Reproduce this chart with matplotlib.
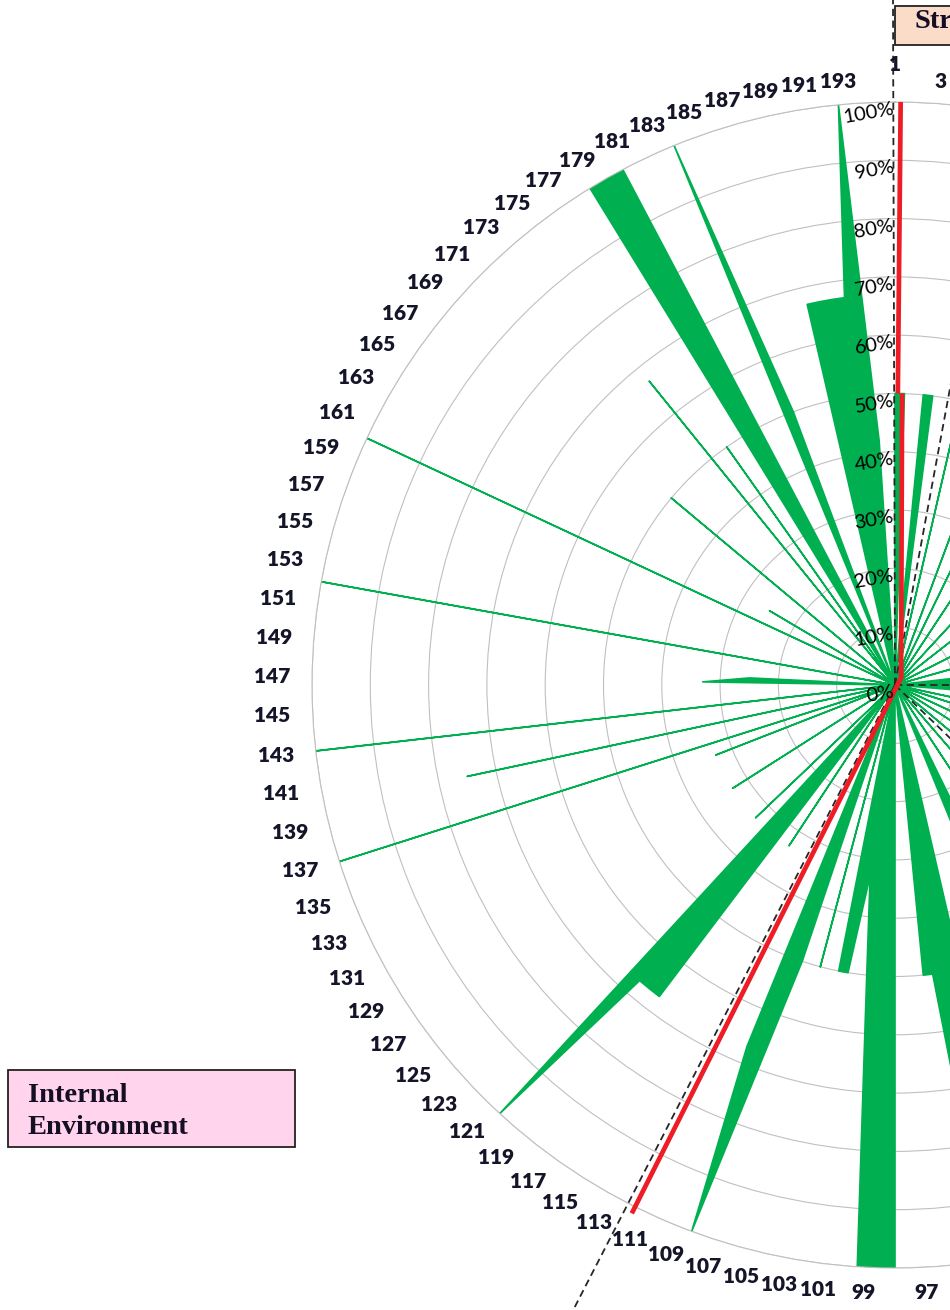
import numpy as np
import matplotlib
matplotlib.use("Agg")
import matplotlib.pyplot as plt
from matplotlib.patches import Rectangle

# ---------------- data ----------------
N_CAT = 194                                   # categories 1..194
category_numbers = list(range(1, N_CAT + 1))
label_numbers = list(range(1, N_CAT + 1, 2))  # only odd numbers are labelled
value_ticks = [0.0, 0.1, 0.2, 0.3, 0.4, 0.5, 0.6, 0.7, 0.8, 0.9, 1.0]
value_tick_labels = ["0%", "10%", "20%", "30%", "40%", "50%",
                     "60%", "70%", "80%", "90%", "100%"]

# share per category (category k -> coverage[k-1])
coverage = [
    # 1 - 10
    0.50, 0.50, 0.00, 0.50, 0.50, 0.00, 0.00, 0.50, 0.00, 0.00,
    # 11 - 20
    0.00, 0.50, 0.00, 0.00, 0.50, 0.00, 0.00, 0.00, 0.50, 0.00,
    # 21 - 30
    0.00, 0.00, 0.00, 0.50, 0.00, 0.00, 0.00, 0.00, 0.50, 0.00,
    # 31 - 40
    0.00, 0.00, 0.00, 0.00, 0.50, 0.00, 0.00, 0.00, 0.00, 0.00,
    # 41 - 50
    0.50, 0.00, 0.00, 0.00, 0.00, 0.50, 0.50, 0.50, 0.50, 0.50,
    # 51 - 60
    0.50, 0.50, 0.00, 0.00, 0.00, 0.50, 0.00, 0.00, 0.50, 0.00,
    # 61 - 70
    0.00, 0.00, 0.50, 0.00, 0.00, 0.00, 0.50, 0.00, 0.00, 0.00,
    # 71 - 80
    0.50, 0.00, 0.00, 0.00, 0.00, 0.50, 0.00, 0.00, 0.00, 0.50,
    # 81 - 90
    0.00, 0.00, 0.00, 0.50, 0.50, 0.50, 0.00, 0.00, 0.00, 0.00,
    # 91 - 100
    1.00, 1.00, 1.00, 0.50, 0.50, 0.00, 0.00, 1.00, 1.00, 1.00,
    # 101 - 110
    0.50, 0.33, 0.50, 0.50, 0.00, 0.50, 0.00, 0.50, 1.00, 0.67,
    # 111 - 120
    0.00, 0.00, 0.00, 0.00, 0.00, 0.33, 0.00, 0.67, 0.67, 0.67,
    # 121 - 130
    1.00, 0.00, 0.33, 0.00, 0.00, 0.00, 0.00, 0.00, 0.33, 0.00,
    # 131 - 140
    0.00, 0.00, 0.00, 0.00, 0.33, 0.00, 1.00, 0.00, 0.00, 0.75,
    # 141 - 150
    0.00, 0.00, 1.00, 0.00, 0.00, 0.00, 0.33, 0.25, 0.00, 0.00,
    # 151 - 160
    0.00, 1.00, 0.00, 0.00, 0.00, 0.00, 0.00, 0.00, 0.00, 1.00,
    # 161 - 170
    0.00, 0.00, 0.25, 0.00, 0.00, 0.00, 0.00, 0.50, 0.00, 0.00,
    # 171 - 180
    0.00, 0.00, 0.00, 0.67, 0.00, 0.50, 0.00, 1.00, 1.00, 1.00,
    # 181 - 190
    0.00, 0.00, 1.00, 0.50, 0.00, 0.00, 0.00, 0.67, 0.67, 0.67,
    # 191 - 194
    0.67, 1.00, 0.42, 0.00,
]

# hand-drawn sector boundaries (position in category units, radius)
dashed_boundaries_cat = [0.91, 6.66, 49.5, 73.2, 112.68]
dashed_boundaries_r = [1.18, 1.15, 1.15, 1.15, 1.20]
red_upper_cat = [1.30, 1.30]
red_upper_r = [1.00, 0.50]
red_lower_cat = [1.75, 22.9, 112.27]
red_lower_r = [0.50, 0.016, 1.0125]

# ---------------- figure ----------------
W, H = 950, 1310
CX, CY, RAD = 895, 685, 583
PX = 72.0 / 100.0  # pixel -> point

fig = plt.figure(figsize=(W / 100, H / 100), dpi=100)
fig.patch.set_facecolor("white")
ax = fig.add_axes([(CX - RAD) / W, (H - CY - RAD) / H, 2 * RAD / W, 2 * RAD / H],
                  projection="polar")
ax.set_theta_zero_location("N")
ax.set_theta_direction(-1)
ax.set_ylim(0, 1)
ax.set_facecolor("none")
ax.set_xticks([])
ax.set_yticks(value_ticks[1:])
ax.set_yticklabels([])
ax.yaxis.grid(True, color="#c0c0c0", lw=0.8)
ax.xaxis.grid(False)
ax.spines["polar"].set_color("#c0c0c0")
ax.spines["polar"].set_linewidth(0.8)
ax.tick_params(length=0)


def cat_angle(c):
    return np.deg2rad((np.asarray(c, dtype=float) - 1.0) * 360.0 / N_CAT)


theta = cat_angle(category_numbers)
ax.fill(theta, coverage, facecolor="#00B050", edgecolor="#00B050",
        linewidth=1.2, joinstyle="round", zorder=2)

# dashed boundaries
for c, r in zip(dashed_boundaries_cat, dashed_boundaries_r):
    ax.plot([cat_angle(c), cat_angle(c)], [0, r], color="#262626", lw=1.3,
            ls=(0, (4, 2.5)), clip_on=False, zorder=3)

# red boundary
ax.plot(cat_angle(red_upper_cat), red_upper_r, color="#EE1C25", lw=3.4,
        solid_capstyle="butt", clip_on=False, zorder=4)
ax.plot(cat_angle(red_lower_cat), red_lower_r, color="#EE1C25", lw=3.4,
        solid_capstyle="butt", clip_on=False, zorder=4)

# category labels all round the ring (Excel-like placement); the right half
# falls outside the cropped picture just as in the original
for k in label_numbers:
    th = float(cat_angle(k))
    s, c = np.sin(th), np.cos(th)
    dx = 22 * s
    dy = 23 * c
    if abs(s) < 1e-6:
        ha = "center"
        dy += 16 * np.sign(c)
    elif s > 0:
        ha = "left"
    else:
        ha = "right"
    ax.annotate(str(k), xy=(th, 1.0), xytext=(dx * PX, dy * PX),
                textcoords="offset points", ha=ha, va="center_baseline",
                fontsize=15, fontweight="heavy", family="Lato",
                color="#15152a", annotation_clip=False, zorder=5)

# value labels along the top spoke
for v, lab in zip(value_ticks, value_tick_labels):
    ax.annotate(lab, xy=(0.0, v), xytext=(-3 * PX, 1.5 * PX),
                textcoords="offset points", ha="right", va="top",
                rotation=10, rotation_mode="anchor", fontsize=14.5,
                family="Lato", color="#000000", annotation_clip=False,
                zorder=5)

# text boxes
def fig_box(x0, y0, x1, y1, color):
    fig.add_artist(Rectangle((x0 / W, 1 - y1 / H), (x1 - x0) / W, (y1 - y0) / H,
                             transform=fig.transFigure, facecolor=color,
                             edgecolor="#222222", lw=1.3, zorder=6))

fig_box(8, 1070, 295, 1147, "#FFD4EC")
fig.text(28 / W, 1 - 1096 / H, "Internal", transform=fig.transFigure,
         ha="left", va="center", fontsize=20.5, fontweight="bold",
         family="Liberation Serif", color="#150f25", zorder=7)
fig.text(28 / W, 1 - 1128 / H, "Environment", transform=fig.transFigure,
         ha="left", va="center", fontsize=20.5, fontweight="bold",
         family="Liberation Serif", color="#150f25", zorder=7)

fig_box(895, 6, 1150, 45, "#FADCC8")
fig.text(915 / W, 1 - 22 / H, "Strategy", transform=fig.transFigure,
         ha="left", va="center", fontsize=20.5, fontweight="bold",
         family="Liberation Serif", color="#150f25", zorder=7)

fig.savefig("out.png", dpi=100, facecolor="white")
